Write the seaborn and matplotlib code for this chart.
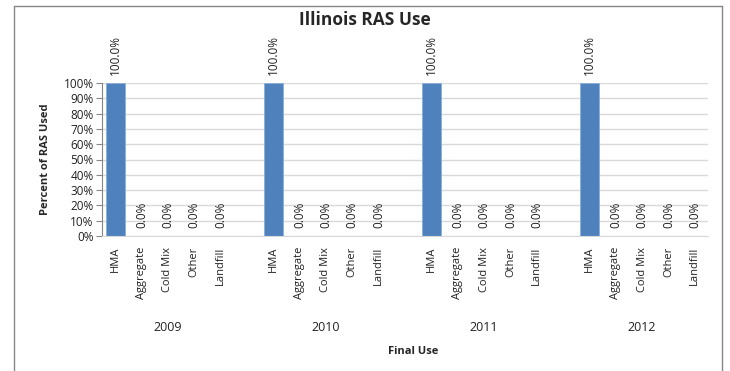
import pandas as pd
import matplotlib.pyplot as plt
import seaborn as sns
from matplotlib.lines import Line2D
from matplotlib.ticker import PercentFormatter

# data
years = ["2009", "2010", "2011", "2012"]
uses = ["HMA", "Aggregate", "Cold Mix", "Other", "Landfill"]
pct_2009 = [100.0, 0.0, 0.0, 0.0, 0.0]
pct_2010 = [100.0, 0.0, 0.0, 0.0, 0.0]
pct_2011 = [100.0, 0.0, 0.0, 0.0, 0.0]
pct_2012 = [100.0, 0.0, 0.0, 0.0, 0.0]
values = [pct_2009, pct_2010, pct_2011, pct_2012]

# one slot per bar, plus an empty slot between year groups
rows = []
order = []
tick_labels = []
for i, yr in enumerate(years):
    for use, v in zip(uses, values[i]):
        slot = yr + " " + use
        rows.append({"slot": slot, "pct": v})
        order.append(slot)
        tick_labels.append(use)
    if i < len(years) - 1:
        order.append("gap" + yr)
        tick_labels.append("")
df = pd.DataFrame(rows)

sns.set_style("white")
plt.rcParams["font.family"] = ["Open Sans", "DejaVu Sans"]

fig = plt.figure(figsize=(7.3, 3.71), dpi=100)
ax = fig.add_axes([102 / 730, 1 - 236 / 371, 606 / 730, 153 / 371])

sns.barplot(data=df, x="slot", y="pct", order=order, color="#4F81BD",
            saturation=1, width=0.72, edgecolor="#8AAEDA", linewidth=0.6, ax=ax)

for c in ax.containers:
    ax.bar_label(c, labels=[f"{v:.1f}%" for v in c.datavalues], rotation=90,
                 padding=6, fontsize=8.5, color="#222222")

ax.set_ylim(0, 100)
ax.set_yticks(range(0, 101, 10))
ax.yaxis.set_major_formatter(PercentFormatter(decimals=0))
ax.set_xlim(-0.5, len(order) - 0.5)
ax.set_xticks(range(len(order)))
ax.set_xticklabels(tick_labels, rotation=90, fontsize=8, color="#222222")
ax.tick_params(axis="x", length=0, pad=8)
ax.tick_params(axis="y", length=4, width=0.8, color="#868686", labelsize=8.5,
               labelcolor="#222222", left=True, pad=2)

ax.grid(axis="y", color="#D9D9D9", linewidth=1)
ax.set_axisbelow(True)
for side in ["top", "right"]:
    ax.spines[side].set_visible(False)
ax.spines["left"].set_color("#868686")
ax.spines["bottom"].set_color("#D9D9D9")

# year labels under each group
for i, yr in enumerate(years):
    ax.text(i * 6 + 2, -0.595, yr, transform=ax.get_xaxis_transform(),
            ha="center", va="center", fontsize=9, color="#222222")

ax.set_xlabel("")
ax.set_ylabel("Percent of RAS Used", fontsize=8, fontweight="bold", labelpad=9)
ax.text(0.513, -0.758, "Final Use", transform=ax.transAxes, ha="center",
        va="center", fontsize=8, fontweight="bold")
fig.text(0.5, 1 - 20 / 371, "Illinois RAS Use", ha="center", va="center",
         fontsize=12.5, fontweight="bold")

# chart frame (left, top, right edges)
fx0, fx1, fy1 = 14 / 730, 722 / 730, 1 - 6 / 371
for xs, ys in [([fx0, fx0], [0, fy1]), ([fx0, fx1], [fy1, fy1]), ([fx1, fx1], [0, fy1])]:
    fig.add_artist(Line2D(xs, ys, color="#868686", linewidth=1))

fig.savefig("out.png", dpi=100)
